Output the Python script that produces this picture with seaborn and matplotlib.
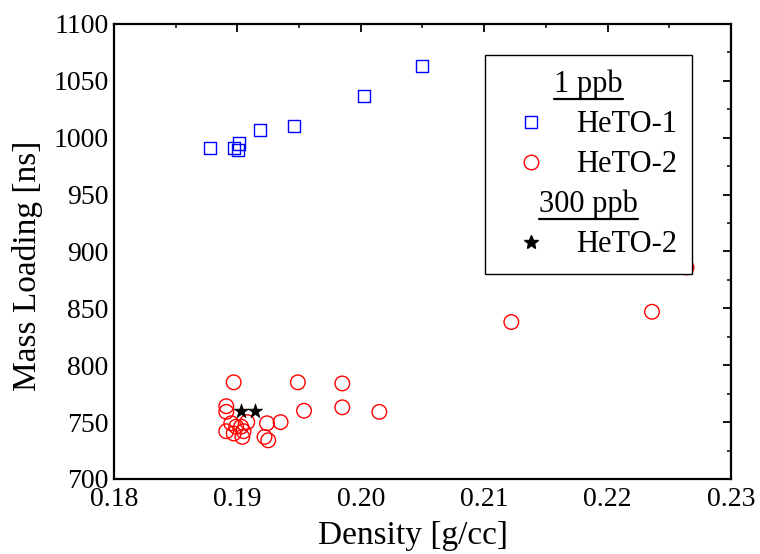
import numpy as np
import pandas as pd
import matplotlib
matplotlib.use("Agg")
import matplotlib.pyplot as plt
from matplotlib.lines import Line2D
from matplotlib.ticker import MultipleLocator, FormatStrFormatter
import seaborn as sns

# ---- data ----
heto1_1ppb_density = [0.1878, 0.19015, 0.19005, 0.18975, 0.19186, 0.19461, 0.20026, 0.20498]
heto1_1ppb_loading = [991, 995, 989, 991, 1007, 1010, 1037, 1063]

heto2_1ppb_density = [0.2122, 0.2236, 0.2264, 0.1949, 0.1985, 0.1954, 0.1985, 0.2015,
                      0.1897, 0.1891, 0.1891, 0.1895, 0.1891, 0.1897, 0.1903, 0.1905,
                      0.1908, 0.1904, 0.1899, 0.1924, 0.1935, 0.1922, 0.1925]
heto2_1ppb_loading = [838, 847, 886, 785, 784, 760, 763, 759,
                      785, 764, 759, 749, 742, 740, 746, 742,
                      750, 737, 746, 749, 750, 737, 734]

heto2_300ppb_density = [0.19027, 0.19143]
heto2_300ppb_loading = [760, 760]

legend_headers = ["1 ppb", "300 ppb"]
legend_labels = ["HeTO-1", "HeTO-2", "HeTO-2"]

x_ticks_fmt = "%.2f"

# ---- figure ----
sns.set_style("white")
plt.rcParams["font.family"] = ["Liberation Serif", "DejaVu Serif"]
plt.rcParams["text.color"] = "black"
plt.rcParams["axes.labelcolor"] = "black"
plt.rcParams["xtick.color"] = "black"
plt.rcParams["ytick.color"] = "black"

fig = plt.figure(figsize=(7.6, 5.54), dpi=100)
ax = fig.add_axes([0.15, 0.1354, 0.8118, 0.8213])

df1 = pd.DataFrame({"d": heto1_1ppb_density, "m": heto1_1ppb_loading})
df2 = pd.DataFrame({"d": heto2_1ppb_density, "m": heto2_1ppb_loading})
df3 = pd.DataFrame({"d": heto2_300ppb_density, "m": heto2_300ppb_loading})

sns.scatterplot(data=df1, x="d", y="m", ax=ax, marker="s", s=78,
                facecolor="none", edgecolor="#0000ff", linewidth=1.0, zorder=3)
sns.scatterplot(data=df2, x="d", y="m", ax=ax, marker="o", s=110,
                facecolor="none", edgecolor="#ff0000", linewidth=1.0, zorder=3)
sns.scatterplot(data=df3, x="d", y="m", ax=ax, marker="*", s=120,
                color="black", edgecolor="black", linewidth=0.5, zorder=4)

ax.set_xlim(0.18, 0.23)
ax.set_ylim(700, 1100)
ax.xaxis.set_major_locator(MultipleLocator(0.01))
ax.xaxis.set_minor_locator(MultipleLocator(0.005))
ax.yaxis.set_major_locator(MultipleLocator(50))
ax.yaxis.set_minor_locator(MultipleLocator(25))
ax.xaxis.set_major_formatter(FormatStrFormatter(x_ticks_fmt))

ax.tick_params(which="both", direction="in", top=True, right=True,
               colors="black", labelcolor="black", labelsize=20)
ax.tick_params(which="major", length=5.5, width=1.3)
ax.tick_params(which="minor", length=2.8, width=1.1)
ax.tick_params(axis="x", which="major", pad=5.5)
ax.tick_params(axis="y", which="major", pad=4)
for sp in ax.spines.values():
    sp.set_linewidth(1.6)
    sp.set_color("black")

ax.set_xlabel("Density [g/cc]", fontsize=24, va="center", color="black")
ax.set_ylabel("Mass Loading [ns]", fontsize=24, va="center", color="black")
ax.xaxis.set_label_coords(0.485, -0.125)
ax.yaxis.set_label_coords(-0.14, 0.468)

# ---- legend ----
blank = Line2D([], [], linestyle="none", marker=None)
h_sq = Line2D([], [], linestyle="none", marker="s", markersize=8.8,
              markerfacecolor="none", markeredgecolor="#0000ff", markeredgewidth=1.0)
h_ci = Line2D([], [], linestyle="none", marker="o", markersize=10.5,
              markerfacecolor="none", markeredgecolor="#ff0000", markeredgewidth=1.0)
h_st = Line2D([], [], linestyle="none", marker="*", markersize=10.5,
              markerfacecolor="black", markeredgecolor="black")
handles = [blank, h_sq, h_ci, blank, h_st]
labels = [" ", legend_labels[0], legend_labels[1], " ", legend_labels[2]]
leg = ax.legend(handles, labels, loc="upper left", bbox_to_anchor=(0.601, 0.932),
                borderaxespad=0, borderpad=0.5, handlelength=2.05,
                handletextpad=0.44, labelspacing=0.36, fontsize=22,
                frameon=True, fancybox=False, framealpha=1, edgecolor="black",
                labelcolor="black")
leg.get_frame().set_linewidth(1.0)
leg.set_zorder(10)
texts = leg.get_texts()

fig.canvas.draw()
renderer = fig.canvas.get_renderer()
fb = leg.get_frame().get_window_extent(renderer)
W, H = fig.bbox.width, fig.bbox.height
xc = (fb.x0 + fb.x1) / 2
headers = []
for idx, hdr in zip((0, 3), legend_headers):
    bb = texts[idx].get_window_extent(renderer)
    yc = (bb.y0 + bb.y1) / 2
    t = fig.text(xc / W, yc / H, hdr, ha="center", va="center",
                 fontsize=22, color="black", zorder=20)
    headers.append(t)
fig.canvas.draw()
for t in headers:
    bb = t.get_window_extent(renderer)
    yline = bb.y0 + 0.5
    fig.add_artist(Line2D([bb.x0 / W, bb.x1 / W], [yline / H, yline / H],
                          transform=fig.transFigure, color="black", linewidth=1.6,
                          zorder=20))

fig.savefig("out.png", dpi=100)
